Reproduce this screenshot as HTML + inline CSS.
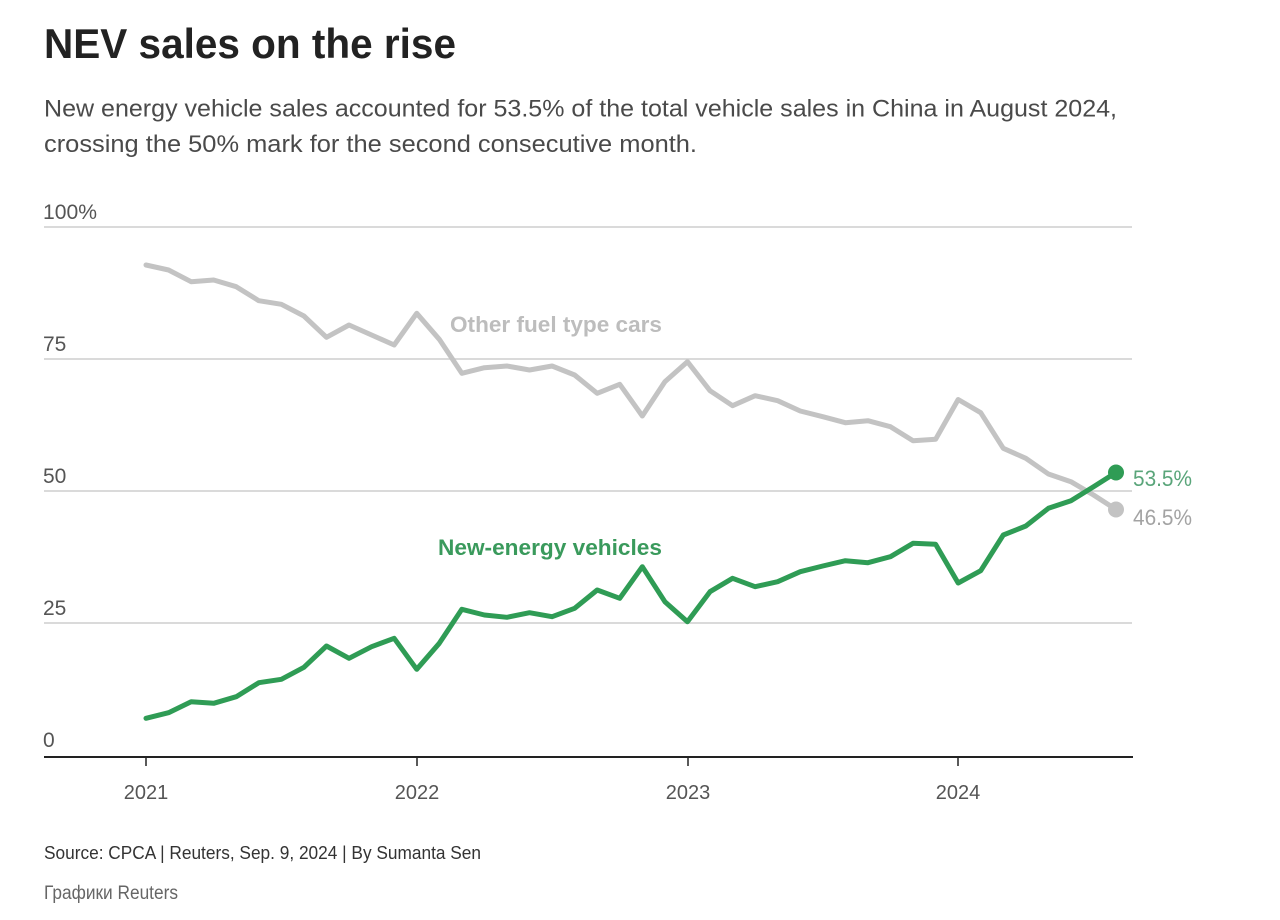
<!DOCTYPE html>
<html>
<head>
<meta charset="utf-8">
<style>
  html,body{margin:0;padding:0;background:#fff;}
  svg{display:block;}
  text{font-family:"Liberation Sans","DejaVu Sans",sans-serif;}
</style>
</head>
<body>
<svg width="1280" height="920" viewBox="0 0 1280 920" xmlns="http://www.w3.org/2000/svg">
  <rect width="1280" height="920" fill="#fff"/>
  <!-- Title -->
  <text x="44" y="58" font-size="42" font-weight="bold" fill="#222" textLength="412" lengthAdjust="spacingAndGlyphs">NEV sales on the rise</text>
  <!-- Subtitle -->
  <text x="44" y="116.5" font-size="24" fill="#4a4a4a" textLength="1073" lengthAdjust="spacingAndGlyphs">New energy vehicle sales accounted for 53.5% of the total vehicle sales in China in August 2024,</text>
  <text x="44" y="152" font-size="24" fill="#4a4a4a" textLength="653" lengthAdjust="spacingAndGlyphs">crossing the 50% mark for the second consecutive month.</text>

  <!-- Gridlines -->
  <g stroke="#cdcdcd" stroke-width="1.5">
    <line x1="44" y1="227" x2="1132" y2="227"/>
    <line x1="44" y1="359" x2="1132" y2="359"/>
    <line x1="44" y1="491" x2="1132" y2="491"/>
    <line x1="44" y1="623" x2="1132" y2="623"/>
  </g>
  <!-- Y labels -->
  <g font-size="21" fill="#555">
    <text x="43" y="219" textLength="54" lengthAdjust="spacingAndGlyphs">100%</text>
    <text x="43" y="351">75</text>
    <text x="43" y="483">50</text>
    <text x="43" y="615">25</text>
    <text x="43" y="747">0</text>
  </g>
  <!-- Axis -->
  <line x1="44" y1="757" x2="1133" y2="757" stroke="#222" stroke-width="2"/>
  <g stroke="#222" stroke-width="1.5">
    <line x1="146" y1="757" x2="146" y2="766"/>
    <line x1="417" y1="757" x2="417" y2="766"/>
    <line x1="688" y1="757" x2="688" y2="766"/>
    <line x1="958" y1="757" x2="958" y2="766"/>
  </g>
  <g font-size="20" fill="#555" text-anchor="middle">
    <text x="146" y="799">2021</text>
    <text x="417" y="799">2022</text>
    <text x="688" y="799">2023</text>
    <text x="958" y="799">2024</text>
  </g>

  <!-- Gray series -->
  <polyline fill="none" stroke="#c3c3c3" stroke-width="5" stroke-linejoin="round" stroke-linecap="round"
    points="146,265 168.56,270 191.12,281.7 213.68,280 236.24,286.7 258.8,300.7 281.36,304.3 303.92,316 326.48,337.3 349.04,325 371.6,335 394.16,345 416.72,313.3 439.28,339.3 461.84,373.3 484.4,367.7 506.96,366 529.52,370 552.08,366 574.64,375 597.2,393.3 619.76,384.3 642.32,416 664.88,381.7 687.44,361.7 710,390.7 732.56,405.7 755.12,395.7 777.68,400.7 800.24,411 822.8,416.7 845.36,422.7 867.92,420.7 890.48,426.7 913.04,440.7 935.6,439.3 958.16,399.5 980.72,412.7 1003.28,448.3 1025.84,458.3 1048.4,474 1070.96,481.7 1093.52,495 1116,509.5"/>
  <circle cx="1116" cy="509.5" r="8" fill="#c3c3c3"/>

  <!-- Green series -->
  <polyline fill="none" stroke="#2f9c55" stroke-width="5" stroke-linejoin="round" stroke-linecap="round"
    points="146,718.3 168.56,712.7 191.12,701.7 213.68,703.3 236.24,696.7 258.8,682.7 281.36,679.3 303.92,667.3 326.48,646 349.04,658.3 371.6,646.7 394.16,638.3 416.72,669.3 439.28,643.3 461.84,609.3 484.4,615 506.96,617.3 529.52,612.7 552.08,616.7 574.64,608.3 597.2,590 619.76,598.3 642.32,566.7 664.88,601.7 687.44,621.7 710,591.7 732.56,578.3 755.12,586.7 777.68,581.7 800.24,571.7 822.8,566 845.36,560.7 867.92,562.7 890.48,556.7 913.04,543.3 935.6,544.3 958.16,583 980.72,570.7 1003.28,535 1025.84,526 1048.4,508.3 1070.96,500.7 1093.52,486.7 1116,472.5"/>
  <circle cx="1116" cy="472.5" r="8" fill="#2f9c55"/>

  <!-- Series labels -->
  <text x="450" y="332" font-size="22" font-weight="bold" fill="#bdbdbd" textLength="212" lengthAdjust="spacingAndGlyphs">Other fuel type cars</text>
  <text x="438" y="555" font-size="22" font-weight="bold" fill="#3a9a5c" textLength="224" lengthAdjust="spacingAndGlyphs">New-energy vehicles</text>
  <text x="1133" y="486" font-size="22" fill="#5aa57a" textLength="59" lengthAdjust="spacingAndGlyphs">53.5%</text>
  <text x="1133" y="525" font-size="22" fill="#a3a3a3" textLength="59" lengthAdjust="spacingAndGlyphs">46.5%</text>

  <!-- Footer -->
  <text x="44" y="859" font-size="18.5" fill="#333" textLength="437" lengthAdjust="spacingAndGlyphs">Source: CPCA | Reuters, Sep. 9, 2024 | By Sumanta Sen</text>
  <text x="44" y="899" font-size="19" fill="#666" textLength="134" lengthAdjust="spacingAndGlyphs">Графики Reuters</text>
</svg>
</body>
</html>
